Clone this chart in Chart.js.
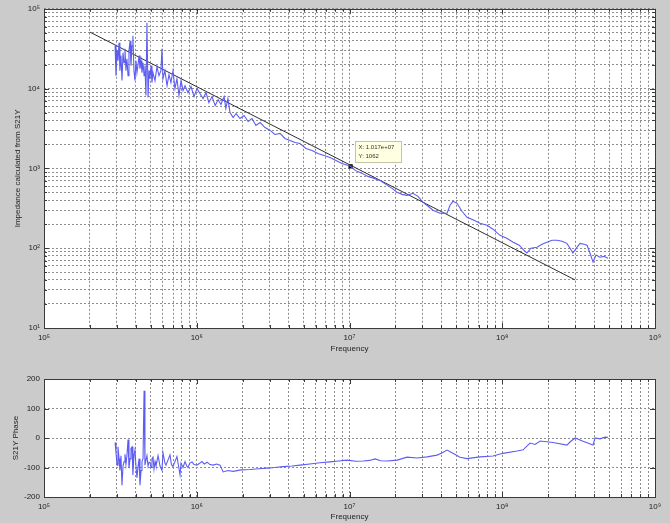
<!DOCTYPE html>
<html><head><meta charset="utf-8">
<script src="https://cdn.jsdelivr.net/npm/chart.js@4"></script>
<style>
html,body{margin:0;padding:0;background:#cbcbcb;width:670px;height:523px;overflow:hidden}
canvas{position:absolute;left:0}
#c1{top:0}
#c2{top:360px}
</style></head><body>
<canvas id="c1" width="670" height="360"></canvas>
<canvas id="c2" width="670" height="163"></canvas>
<script>
// ---- data ----
const impFreq = [2.92e5,2.96e5,3.01e5,3.05e5,3.10e5,3.14e5,3.19e5,3.24e5,3.29e5,3.34e5,
3.39e5,3.44e5,3.49e5,3.55e5,3.60e5,3.66e5,3.71e5,3.77e5,3.82e5,3.88e5,
3.94e5,4.00e5,4.06e5,4.12e5,4.19e5,4.25e5,4.32e5,4.38e5,4.45e5,4.52e5,
4.58e5,4.65e5,4.72e5,4.80e5,4.87e5,4.94e5,5.02e5,5.09e5,5.17e5,5.33e5,
5.49e5,5.66e5,5.83e5,5.92e5,6.01e5,6.19e5,6.39e5,6.58e5,6.78e5,6.99e5,
7.20e5,7.42e5,7.65e5,7.89e5,8.13e5,8.38e5,8.76e5,9.17e5,9.60e5,1.004e6,
1.05e6,1.10e6,1.15e6,1.20e6,1.26e6,1.32e6,1.38e6,1.44e6,1.51e6,1.55e6,
1.60e6,1.65e6,1.73e6,1.81e6,1.92e6,2.04e6,2.17e6,2.30e6,2.44e6,2.60e6,
2.80e6,3.02e6,3.25e6,3.51e6,3.78e6,4.08e6,4.40e6,4.74e6,5.19e6,5.68e6,
6.22e6,6.81e6,7.45e6,8.16e6,8.93e6,1.017e7,1.09e7,1.21e7,1.32e7,1.45e7,
1.58e7,1.73e7,1.90e7,2.05e7,2.21e7,2.38e7,2.60e7,2.81e7,3.03e7,3.27e7,
3.52e7,3.91e7,4.35e7,4.55e7,4.76e7,5.06e7,5.45e7,5.88e7,6.53e7,7.15e7,
7.95e7,8.70e7,9.67e7,1.07e8,1.18e8,1.29e8,1.39e8,1.45e8,1.54e8,1.69e8,
1.82e8,1.96e8,2.12e8,2.28e8,2.46e8,2.65e8,2.78e8,2.90e8,3.09e8,3.23e8,
3.43e8,3.59e8,3.75e8,3.93e8,4.11e8,4.36e8,4.64e8,4.92e8];
const impZ = [3.45e4,1.45e4,2.99e4,2.24e4,3.76e4,1.68e4,2.59e4,1.26e4,2.82e4,2.11e4,
3.16e4,1.68e4,2.37e4,1.45e4,2.99e4,3.98e4,1.94e4,3.45e4,4.60e4,1.68e4,
1.26e4,2.24e4,1.58e4,1.94e4,2.59e4,1.78e4,2.24e4,1.58e4,2.11e4,1.45e4,
1.94e4,8180,6.68e4,7720,1.68e4,1.33e4,1.94e4,1.19e4,1.58e4,1.26e4,
1.88e4,1.45e4,1.68e4,3.16e4,1.33e4,1.68e4,1.09e4,1.50e4,1.19e4,1.68e4,
1.0e4,1.33e4,8180,1.26e4,9440,1.09e4,8910,1.06e4,7940,1.0e4,
8660,7500,8910,6680,7940,6130,7290,6310,7940,5620,
7500,5010,4340,4870,4220,4600,3870,4220,3450,3760,
3250,2990,2660,2740,2370,2240,2110,2050,1780,1680,
1540,1450,1370,1260,1150,1062,944,866,794,750,
708,631,562,501,473,460,487,447,376,335,
299,274,274,345,387,365,290,244,224,205,
194,173,145,133,119,109,94,87,100,103,
112,119,126,126,122,115,100,87,103,115,
112,109,87,67,82,77,79,75];
const fitFreq = [2e5, 3e8];
const fitZ = [5.1e4, 40];
const tipFreq = [1.017e7];
const tipZ = [1062];
const phaseFreq = [2.92e5,2.96e5,3.01e5,3.05e5,3.10e5,3.14e5,3.19e5,3.24e5,3.29e5,3.34e5,
3.39e5,3.44e5,3.49e5,3.55e5,3.60e5,3.66e5,3.71e5,3.77e5,3.82e5,3.88e5,
3.94e5,4.00e5,4.06e5,4.12e5,4.19e5,4.25e5,4.32e5,4.38e5,4.45e5,4.52e5,
4.58e5,4.65e5,4.72e5,4.80e5,4.87e5,4.94e5,5.02e5,5.09e5,5.17e5,5.25e5,
5.33e5,5.41e5,5.58e5,5.75e5,5.92e5,6.01e5,6.19e5,6.29e5,6.48e5,6.68e5,
6.83e5,6.99e5,7.20e5,7.42e5,7.60e5,7.77e5,7.89e5,8.13e5,8.38e5,8.60e5,
8.76e5,9.00e5,9.31e5,9.60e5,1.004e6,1.05e6,1.08e6,1.12e6,1.17e6,1.22e6,
1.28e6,1.35e6,1.42e6,1.49e6,1.6e6,1.73e6,1.95e6,2.23e6,2.55e6,2.88e6,
3.25e6,3.67e6,4.2e6,4.74e6,5.5e6,6.4e6,7.45e6,8.5e6,9.63e6,1.1e7,
1.23e7,1.35e7,1.47e7,1.6e7,1.76e7,2.05e7,2.38e7,2.77e7,3.22e7,3.74e7,
4.0e7,4.35e7,4.69e7,5.29e7,5.88e7,7.15e7,8.70e7,1.01e8,1.25e8,1.37e8,
1.52e8,1.64e8,1.77e8,2.15e8,2.65e8,2.8e8,3.00e8,3.38e8,3.93e8,4.05e8,
4.36e8,4.71e8,4.92e8];
const phaseDeg = [-15,-50,-92,-30,-70,-110,-60,-160,-95,-81,
-55,-90,-60,-5,-102,-70,-35,-30,-125,-60,
-40,-95,-135,-100,-70,-160,-110,-80,-70,160,
-92,-75,-60,-95,-82,-81,-100,-70,-65,-105,
-80,-95,-60,-95,-110,-50,-85,-92,-75,-57,
-90,-97,-80,-63,-95,-125,-85,-100,-80,-95,
-100,-85,-81,-90,-92,-85,-80,-88,-82,-90,
-92,-88,-92,-115,-110,-113,-108,-107,-104,-102,
-100,-97,-95,-92,-88,-84,-81,-78,-75,-79,
-78,-76,-71,-77,-78,-75,-65,-68,-64,-58,
-52,-41,-50,-65,-70,-64,-61,-52,-44,-40,
-17,-22,-10,-15,-24,-12,0,-11,-24,0,
-3,3,2];
const xMajorTicks = [1e5,1e6,1e7,1e8,1e9];
const xTickLabels = ['10\u2075','10\u2076','10\u2077','10\u2078','10\u2079'];
const yMajorTicks = [1e1,1e2,1e3,1e4,1e5];
const yTickLabels = ['10\u00B9','10\u00B2','10\u00B3','10\u2074','10\u2075'];
const phaseTicks = [-200,-100,0,100,200];
const phaseTickLabels = ['-200','-100','0','100','200'];
const minorMultipliers = [1,2,3,4,5,6,7,8,9];

// ---- helpers ----
function logTicks(majors){
  const t=[];
  for(let i=0;i<majors.length-1;i++){ for(const m of minorMultipliers) t.push(majors[i]*m); }
  t.push(majors[majors.length-1]);
  return t;
}
const FONT = 'Liberation Sans';
const gridCfg = {color:'#8e8e8e', lineWidth:1, drawTicks:false};
const borderCfg = {display:false, dash:[2,2]};

function logAxis(majors, labels, min, max, pos, sizeKey, size, titleText, titlePad){
  return {
    type:'logarithmic', position:pos, min:min, max:max,
    grid:gridCfg, border:borderCfg,
    afterBuildTicks:(s)=>{ s.ticks = logTicks(majors).map(v=>({value:v, major:majors.includes(v)})); },
    afterFit:(s)=>{ s[sizeKey]=size; },
    ticks:{autoSkip:false, maxRotation:0, padding: pos==='bottom'?5:4, color:'#222',
      font:{family:FONT, size:8},
      callback:(v)=>{ const i=majors.indexOf(v); return i>=0?labels[i]:''; }},
    title:{display:true, text:titleText, color:'#222', font:{family:FONT,size:8}, padding:titlePad}
  };
}

const frame = {
  id:'frame',
  beforeDraw(chart){
    const {ctx, chartArea:a} = chart;
    ctx.save(); ctx.fillStyle='#ffffff';
    ctx.fillRect(a.left,a.top,a.right-a.left,a.bottom-a.top); ctx.restore();
  },
  afterDraw(chart, args, opts){
    const {ctx, chartArea:a} = chart;
    const xs = chart.scales.x, ys = chart.scales.y;
    ctx.save();
    ctx.strokeStyle='#3a3a3a'; ctx.lineWidth=1;
    xs.ticks.forEach(t=>{
      const px = Math.round(xs.getPixelForValue(t.value))+0.5;
      const L = t.major?5:3;
      ctx.beginPath(); ctx.moveTo(px,a.bottom); ctx.lineTo(px,a.bottom-L);
      ctx.moveTo(px,a.top); ctx.lineTo(px,a.top+L); ctx.stroke();
    });
    ys.ticks.forEach(t=>{
      const py = Math.round(ys.getPixelForValue(t.value))+0.5;
      const L = (ys.type==='linear'||t.major)?5:3;
      ctx.beginPath(); ctx.moveTo(a.left,py); ctx.lineTo(a.left+L,py);
      ctx.moveTo(a.right,py); ctx.lineTo(a.right-L,py); ctx.stroke();
    });
    ctx.strokeRect(Math.round(a.left)+0.5, Math.round(a.top)+0.5, Math.round(a.right-a.left), Math.round(a.bottom-a.top));
    if (opts && opts.tip) {
      const p = chart.getDatasetMeta(2).data[0];
      const bx = Math.round(p.x)+4.5, by = Math.round(p.y)-24.5;
      ctx.fillStyle='#ffffe1'; ctx.strokeStyle='#c4c4ae';
      ctx.fillRect(bx,by,46,21); ctx.strokeRect(bx,by,46,21);
      ctx.fillStyle='#333'; ctx.font='6px '+FONT; ctx.textBaseline='middle'; ctx.textAlign='left';
      const xs_ = tipFreq[0].toExponential(3).replace(/e\+(\d)$/,'e+0$1');
      ctx.fillText('X: '+xs_, bx+3, by+6);
      ctx.fillText('Y: '+tipZ[0], bx+3, by+15);
    }
    ctx.restore();
  }
};

const pts = (xa, ya) => xa.map((v,i)=>({x:v, y:ya[i]}));

new Chart(document.getElementById('c1'), {
  type:'line',
  data:{datasets:[
    {data:pts(impFreq, impZ), borderColor:'#5d5df2', borderWidth:1.1, pointRadius:0, tension:0},
    {data:pts(fitFreq, fitZ), borderColor:'#2e2e2e', borderWidth:1, pointRadius:0, tension:0},
    {data:pts(tipFreq, tipZ), showLine:false, pointStyle:'rect', pointRadius:3, backgroundColor:'#000', borderColor:'#000', borderWidth:0}
  ]},
  options:{
    responsive:false, animation:false, devicePixelRatio:1, events:[],
    layout:{padding:{left:0,right:15,top:8,bottom:0}},
    plugins:{legend:{display:false}, tooltip:{enabled:false}, frame:{tip:true}},
    scales:{
      x: logAxis(xMajorTicks, xTickLabels, 1e5, 1e9, 'bottom', 'height', 32, 'Frequency', {top:0,bottom:6.2}),
      y: logAxis(yMajorTicks, yTickLabels, 1e1, 1e5, 'left', 'width', 44, 'Impedance calculated from S21Y', {top:13.2,bottom:0})
    }
  },
  plugins:[frame]
});

new Chart(document.getElementById('c2'), {
  type:'line',
  data:{datasets:[
    {data:pts(phaseFreq, phaseDeg), borderColor:'#5d5df2', borderWidth:1.1, pointRadius:0, tension:0}
  ]},
  options:{
    responsive:false, animation:false, devicePixelRatio:1, events:[],
    layout:{padding:{left:0,right:15,top:19,bottom:0}},
    plugins:{legend:{display:false}, tooltip:{enabled:false}, frame:{tip:false}},
    scales:{
      x: logAxis(xMajorTicks, xTickLabels, 1e5, 1e9, 'bottom', 'height', 26, 'Frequency', {top:0,bottom:1.7}),
      y: {
        type:'linear', min:-200, max:200,
        grid:gridCfg, border:borderCfg,
        afterBuildTicks:(s)=>{ s.ticks = phaseTicks.map(v=>({value:v})); },
        afterFit:(s)=>{ s.width=44; },
        ticks:{autoSkip:false, padding:4, color:'#222', font:{family:FONT,size:8},
          callback:(v)=>{ const i=phaseTicks.indexOf(v); return i>=0?phaseTickLabels[i]:''; }},
        title:{display:true, text:'S21Y Phase', color:'#222', font:{family:FONT,size:8}, padding:{top:10.5,bottom:0}}
      }
    }
  },
  plugins:[frame]
});
</script>
</body></html>
